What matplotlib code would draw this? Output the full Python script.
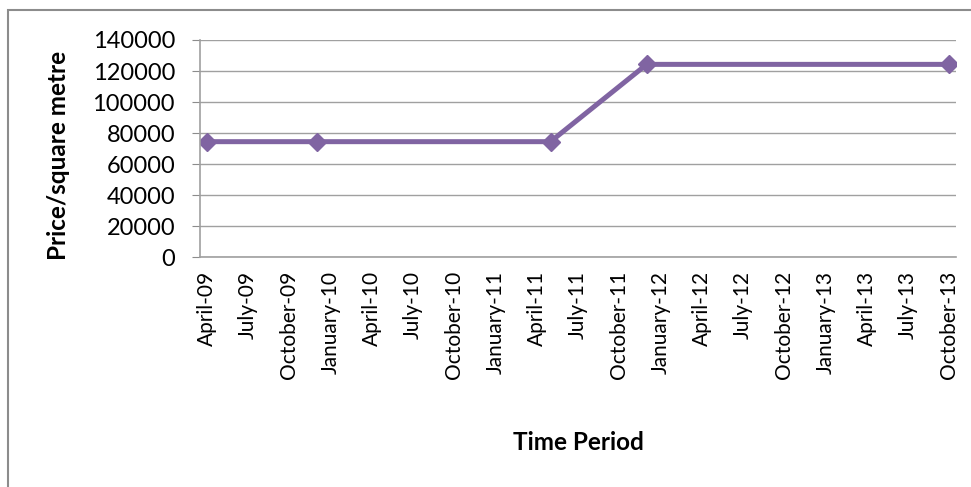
import matplotlib
matplotlib.use('Agg')
import matplotlib.pyplot as plt
from matplotlib.patches import Rectangle

# month labels every 3 months, April-09 .. October-13
tick_labels = ['April-09', 'July-09', 'October-09', 'January-10', 'April-10', 'July-10',
               'October-10', 'January-11', 'April-11', 'July-11', 'October-11', 'January-12',
               'April-12', 'July-12', 'October-12', 'January-13', 'April-13', 'July-13',
               'October-13']

# data points as month offsets from April 2009
months = [0, 8, 25, 32, 54]   # Apr-09, Dec-09, May-11, Dec-11, Oct-13
prices = [74500, 74500, 74500, 124300, 124300]

plt.rcParams['font.family'] = ['Lato', 'DejaVu Sans']

fig = plt.figure(figsize=(9.71, 4.87), dpi=100)
ax = fig.add_axes([200 / 971, 1 - 257.3 / 487, 756 / 971, 217.3 / 487])

# chart border (cropped at right and bottom like the original)
fig.patches.append(Rectangle((8 / 971, -0.1), 1.2, 1 - 10 / 487 + 0.1, transform=fig.transFigure,
                             fill=False, edgecolor='#8c8c8c', linewidth=1.5))

ax.plot(months, prices, color='#8064A2', linewidth=3.6, marker='D', markersize=9,
        solid_capstyle='round')

ax.set_xlim(-0.5, 54.5)
ax.set_ylim(0, 140000)
ax.set_xticks(range(0, 55, 3))
ax.set_xticklabels(tick_labels, rotation=90, fontsize=15)
ax.set_yticks(range(0, 140001, 20000))
ax.tick_params(axis='y', labelsize=17, length=6, color='#8c8c8c', pad=12)
ax.tick_params(axis='x', length=0, pad=10)

ax.grid(axis='y', color='#a0a0a0', linewidth=1)
ax.set_axisbelow(True)
for s in ['top', 'right']:
    ax.spines[s].set_visible(False)
for s in ['left', 'bottom']:
    ax.spines[s].set_color('#a0a0a0')
    ax.spines[s].set_linewidth(1.2)

# axis titles
fig.text(58 / 971, 1 - 155 / 487, 'Price/square metre', fontsize=17.5, fontweight='bold',
         rotation=90, ha='center', va='center')
fig.text(578 / 971, 1 - 443 / 487, 'Time Period', fontsize=17.5, fontweight='bold',
         ha='center', va='center')

fig.savefig('out.png', dpi=100)
